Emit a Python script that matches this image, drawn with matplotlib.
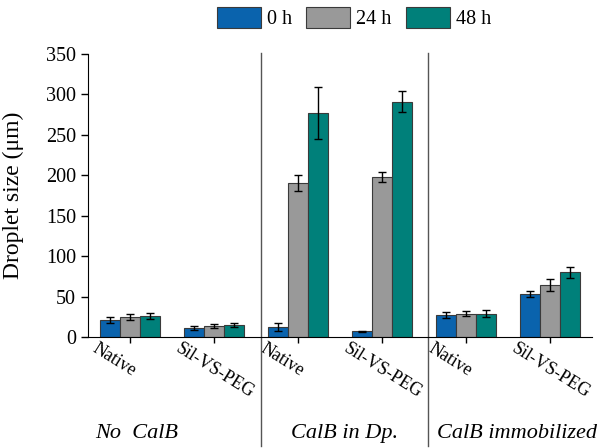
import matplotlib
matplotlib.use("Agg")
import matplotlib.pyplot as plt
import matplotlib.transforms as mtransforms
import numpy as np

plt.rcParams['font.family'] = ['Liberation Serif', 'DejaVu Serif']

# data
tick_labels = ["Native", "Sil-VS-PEG", "Native", "Sil-VS-PEG", "Native", "Sil-VS-PEG"]
group_labels = ["No  CalB", "CalB in Dp.", "CalB immobilized"]
series_names = ["0 h", "24 h", "48 h"]

size_0h = [21, 11, 12, 7, 27, 53]
size_24h = [25, 13, 190, 198, 29, 64]
size_48h = [26, 15, 277, 291, 29, 80]

err_0h = [4, 2.5, 5, 1, 3.5, 3.5]
err_24h = [4, 2.5, 10, 6.5, 3.5, 7.5]
err_48h = [4, 2.5, 32, 13, 4, 6.5]

colors = ["#0a63ad", "#999999", "#00807a"]

fig = plt.figure(figsize=(6, 4.48), dpi=100)
ax = fig.add_axes([0.1467, 0.2478, 0.84, 0.6317])

x = np.arange(len(tick_labels))
w = 0.236
values = [size_0h, size_24h, size_48h]
errors = [err_0h, err_24h, err_48h]
for i in range(3):
    ax.bar(x + (i - 1) * w, values[i], w, color=colors[i], edgecolor="#3a3a3a",
           linewidth=0.8, label=series_names[i], zorder=2)
    ax.errorbar(x + (i - 1) * w, values[i], yerr=errors[i], fmt="none",
                ecolor="black", elinewidth=1, capsize=3, capthick=1, zorder=3)

ax.set_xlim(-0.5, 5.5)
ax.set_ylim(0, 350)
ax.set_yticks(np.arange(0, 351, 50))
ax.tick_params(axis="y", labelsize=14.5, length=5, width=1, direction="out")
ax.set_xticks(x)
ax.set_xticklabels(tick_labels, rotation=-32, ha="left", va="top",
                   rotation_mode="anchor", fontsize=13)
ax.tick_params(axis="x", length=4, width=1, pad=-2)
offset = mtransforms.ScaledTranslation(-0.32, 0, fig.dpi_scale_trans)
for lab in ax.get_xticklabels():
    lab.set_transform(lab.get_transform() + offset)

ax.spines["top"].set_visible(False)
ax.spines["right"].set_visible(False)
ax.set_ylabel("Droplet size (μm)", fontsize=17, labelpad=16)

# section separators
for sx in [1.56, 3.55]:
    ax.axvline(sx, ymin=-0.385, ymax=1.005, color="#555555", lw=1, clip_on=False)

# section labels
for gx, glab in zip([137, 345, 517], group_labels):
    fig.text(gx / 600, (448 - 433) / 448, glab, fontsize=16, style="italic",
             ha="center", va="center")

fig.legend(loc="upper center", bbox_to_anchor=(0.59, 1.025), ncol=3,
           frameon=False, fontsize=14.5, handlelength=2.2, handleheight=1.25,
           columnspacing=0.7, handletextpad=0.3)

fig.savefig("out.png", dpi=100)
